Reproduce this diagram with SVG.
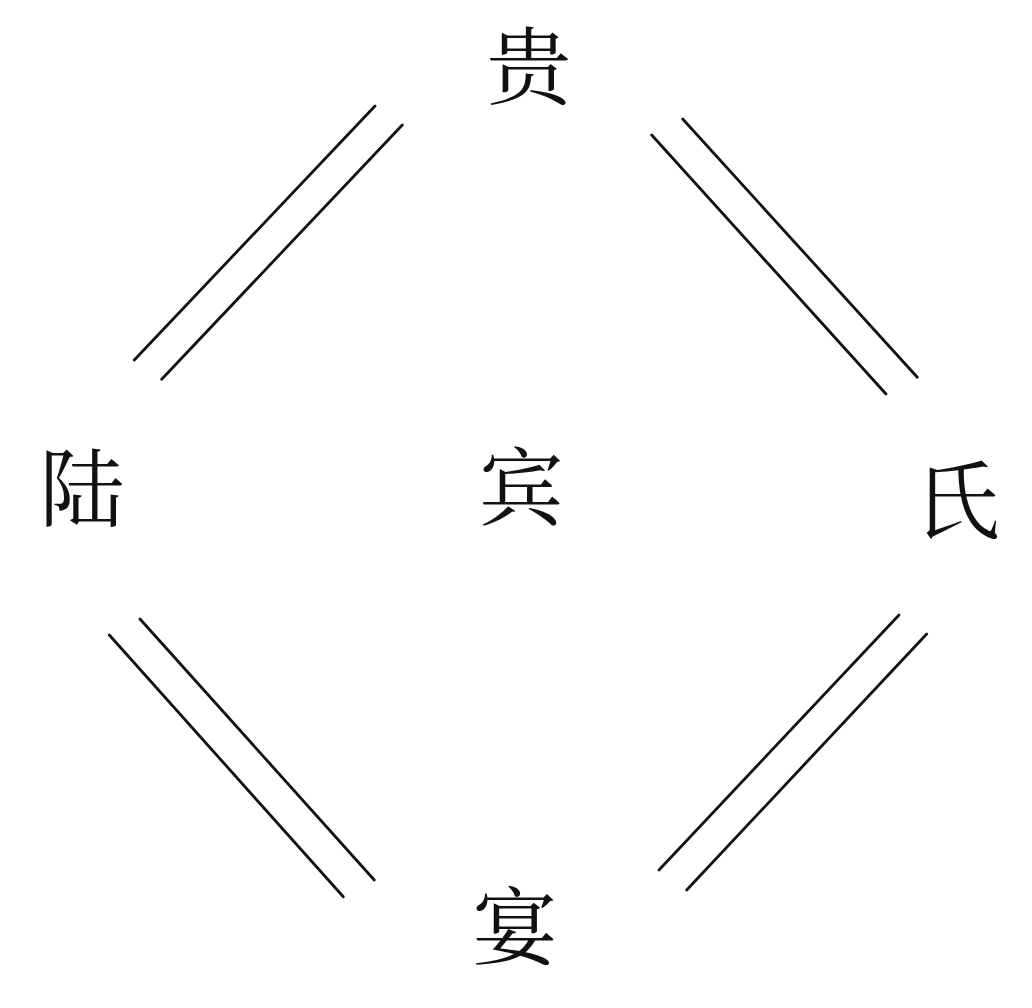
<svg xmlns="http://www.w3.org/2000/svg" width="1032" height="1008" viewBox="0 0 1032 1008">
  <style>
    .ch { font-family: "Noto Serif CJK SC", "Noto Sans CJK SC", serif; font-size: 85px; fill: #111; text-anchor: middle; }
    .ln { stroke: #111; stroke-width: 2.8; stroke-linecap: round; fill: none; }
  </style>
  <rect width="1032" height="1008" fill="#ffffff"/>
  <g id="connectors">
    <line class="ln" x1="134.3" y1="360" x2="375" y2="106"/>
    <line class="ln" x1="161.7" y1="379.3" x2="402.3" y2="125"/>
    <line class="ln" x1="651.7" y1="135" x2="886" y2="394"/>
    <line class="ln" x1="682.7" y1="119" x2="917.3" y2="377.3"/>
    <line class="ln" x1="109.3" y1="635" x2="343.3" y2="896.7"/>
    <line class="ln" x1="140" y1="619" x2="374.3" y2="880"/>
    <line class="ln" x1="659" y1="870" x2="899" y2="615"/>
    <line class="ln" x1="686.7" y1="890" x2="926.7" y2="634"/>
  </g>
  <g id="node-gui"><text class="ch" x="529" y="98">贵</text></g>
  <g id="node-lu"><text class="ch" x="82" y="520">陆</text></g>
  <g id="node-bin"><text class="ch" x="521" y="519">宾</text></g>
  <g id="node-shi"><text class="ch" x="957" y="532">氏</text></g>
  <g id="node-yan"><text class="ch" x="515" y="958">宴</text></g>
</svg>
